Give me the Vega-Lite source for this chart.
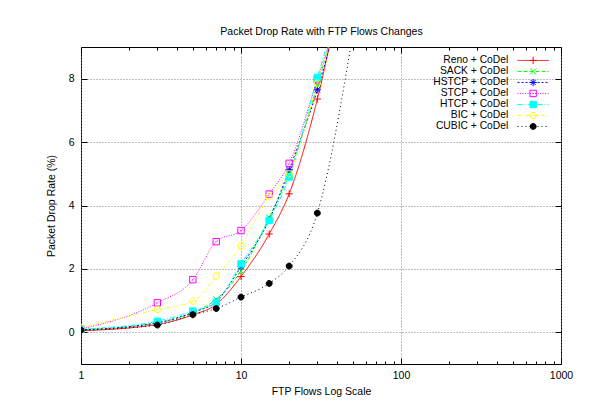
{
  "$schema": "https://vega.github.io/schema/vega-lite/v6.json",
  "width": 480,
  "height": 317,
  "autosize": {"type": "none"},
  "padding": {"left": 81, "top": 47, "right": 34, "bottom": 39},
  "background": "white",
  "config": {
    "font": "Liberation Sans",
    "view": {"stroke": "black", "strokeWidth": 1},
    "axis": {"domain": false, "tickColor": "black", "tickWidth": 1, "labelColor": "black", "labelFontSize": 10.5, "labelFont": "Liberation Sans", "titleFont": "Liberation Sans", "titleFontSize": 10.5, "titleFontWeight": "normal", "titleColor": "black", "gridColor": "#808080", "gridDash": [1, 2], "gridOpacity": 1, "gridWidth": 1},
    "legend": {"labelFont": "Liberation Sans", "labelFontSize": 10.3, "labelColor": "black", "padding": 0, "rowPadding": -2}
  },
  "data": {"values": [
    {"series": "Reno + CoDel", "flows": 1, "rate": 0.05},
    {"series": "Reno + CoDel", "flows": 3, "rate": 0.25},
    {"series": "Reno + CoDel", "flows": 5, "rate": 0.55},
    {"series": "Reno + CoDel", "flows": 7, "rate": 0.88},
    {"series": "Reno + CoDel", "flows": 10, "rate": 1.76},
    {"series": "Reno + CoDel", "flows": 15, "rate": 3.1},
    {"series": "Reno + CoDel", "flows": 20, "rate": 4.37},
    {"series": "Reno + CoDel", "flows": 30, "rate": 7.36},
    {"series": "Reno + CoDel", "flows": 50, "rate": 12.8},
    {"series": "SACK + CoDel", "flows": 1, "rate": 0.08},
    {"series": "SACK + CoDel", "flows": 3, "rate": 0.3},
    {"series": "SACK + CoDel", "flows": 5, "rate": 0.62},
    {"series": "SACK + CoDel", "flows": 7, "rate": 1.04},
    {"series": "SACK + CoDel", "flows": 10, "rate": 1.93},
    {"series": "SACK + CoDel", "flows": 15, "rate": 3.62},
    {"series": "SACK + CoDel", "flows": 20, "rate": 5.0},
    {"series": "SACK + CoDel", "flows": 30, "rate": 7.8},
    {"series": "SACK + CoDel", "flows": 50, "rate": 11.8},
    {"series": "HSTCP + CoDel", "flows": 1, "rate": 0.08},
    {"series": "HSTCP + CoDel", "flows": 3, "rate": 0.3},
    {"series": "HSTCP + CoDel", "flows": 5, "rate": 0.63},
    {"series": "HSTCP + CoDel", "flows": 7, "rate": 0.97},
    {"series": "HSTCP + CoDel", "flows": 10, "rate": 2.07},
    {"series": "HSTCP + CoDel", "flows": 15, "rate": 3.55},
    {"series": "HSTCP + CoDel", "flows": 20, "rate": 5.13},
    {"series": "HSTCP + CoDel", "flows": 30, "rate": 7.65},
    {"series": "HSTCP + CoDel", "flows": 50, "rate": 11.9},
    {"series": "STCP + CoDel", "flows": 1, "rate": 0.1},
    {"series": "STCP + CoDel", "flows": 3, "rate": 0.93},
    {"series": "STCP + CoDel", "flows": 5, "rate": 1.66},
    {"series": "STCP + CoDel", "flows": 7, "rate": 2.86},
    {"series": "STCP + CoDel", "flows": 10, "rate": 3.21},
    {"series": "STCP + CoDel", "flows": 15, "rate": 4.36},
    {"series": "STCP + CoDel", "flows": 20, "rate": 5.33},
    {"series": "STCP + CoDel", "flows": 30, "rate": 7.97},
    {"series": "STCP + CoDel", "flows": 50, "rate": 11.5},
    {"series": "HTCP + CoDel", "flows": 1, "rate": 0.1},
    {"series": "HTCP + CoDel", "flows": 3, "rate": 0.35},
    {"series": "HTCP + CoDel", "flows": 5, "rate": 0.67},
    {"series": "HTCP + CoDel", "flows": 7, "rate": 0.95},
    {"series": "HTCP + CoDel", "flows": 10, "rate": 2.16},
    {"series": "HTCP + CoDel", "flows": 15, "rate": 3.53},
    {"series": "HTCP + CoDel", "flows": 20, "rate": 4.9},
    {"series": "HTCP + CoDel", "flows": 30, "rate": 8.04},
    {"series": "HTCP + CoDel", "flows": 50, "rate": 11.7},
    {"series": "BIC + CoDel", "flows": 1, "rate": 0.15},
    {"series": "BIC + CoDel", "flows": 3, "rate": 0.72},
    {"series": "BIC + CoDel", "flows": 5, "rate": 0.98},
    {"series": "BIC + CoDel", "flows": 7, "rate": 1.77},
    {"series": "BIC + CoDel", "flows": 10, "rate": 2.73},
    {"series": "BIC + CoDel", "flows": 15, "rate": 4.29},
    {"series": "BIC + CoDel", "flows": 20, "rate": 5.0},
    {"series": "BIC + CoDel", "flows": 30, "rate": 7.86},
    {"series": "BIC + CoDel", "flows": 50, "rate": 11.6},
    {"series": "CUBIC + CoDel", "flows": 1, "rate": 0.07},
    {"series": "CUBIC + CoDel", "flows": 3, "rate": 0.23},
    {"series": "CUBIC + CoDel", "flows": 5, "rate": 0.56},
    {"series": "CUBIC + CoDel", "flows": 7, "rate": 0.75},
    {"series": "CUBIC + CoDel", "flows": 10, "rate": 1.11},
    {"series": "CUBIC + CoDel", "flows": 15, "rate": 1.54},
    {"series": "CUBIC + CoDel", "flows": 20, "rate": 2.09},
    {"series": "CUBIC + CoDel", "flows": 30, "rate": 3.76},
    {"series": "CUBIC + CoDel", "flows": 50, "rate": 9.4}
  ]},
  "layer": [
    {
      "mark": {"type": "line", "clip": true, "interpolate": "monotone", "strokeWidth": 1},
      "encoding": {
        "x": {"field": "flows", "type": "quantitative", "scale": {"type": "log", "domain": [1, 1000]},
          "axis": {"orient": "bottom", "values": [1, 10, 100, 1000], "format": "d", "title": "FTP Flows Log Scale", "grid": true, "tickSize": -6, "labelPadding": 12, "labelFlush": false, "titlePadding": 6}},
        "y": {"field": "rate", "type": "quantitative", "scale": {"domain": [-1, 9], "nice": false, "zero": false},
          "axis": {"orient": "left", "values": [0, 2, 4, 6, 8], "title": "Packet Drop Rate (%)", "grid": true, "tickSize": -6, "labelPadding": 13, "titlePadding": 12}},
        "color": {"field": "series", "type": "nominal",
          "scale": {"domain": ["Reno + CoDel", "SACK + CoDel", "HSTCP + CoDel", "STCP + CoDel", "HTCP + CoDel", "BIC + CoDel", "CUBIC + CoDel"],
                    "range": ["#ff0000", "#00ff00", "#0000ff", "#ff00ff", "#00ffff", "#ffff00", "#000000"]},
          "legend": {"orient": "none", "legendX": 447, "legendY": 8.3, "title": null, "symbolType": "M-3.9,0L3.9,0", "symbolSize": 64, "symbolStrokeWidth": 1, "labelAlign": "right", "labelOffset": -30, "labelOpacity": 0, "zindex": 0}},
        "strokeDash": {"field": "series", "type": "nominal",
          "scale": {"domain": ["Reno + CoDel", "SACK + CoDel", "HSTCP + CoDel", "STCP + CoDel", "HTCP + CoDel", "BIC + CoDel", "CUBIC + CoDel"],
                    "range": [[1, 0], [4, 2], [2, 2], [1, 1.5], [5, 2, 1, 2], [3, 2, 1, 2], [1, 3]]},
          "legend": {"orient": "none", "legendX": 447, "legendY": 8.3, "title": null, "symbolType": "M-3.9,0L3.9,0", "symbolSize": 64, "symbolStrokeWidth": 1, "labelAlign": "right", "labelOffset": -30, "labelOpacity": 0, "zindex": 0}}
      }
    },
    {
      "mark": {"type": "point", "clip": true, "size": 64, "strokeWidth": 1, "opacity": 1},
      "encoding": {
        "x": {"field": "flows", "type": "quantitative",
          "axis": {"orient": "bottom", "values": [2, 3, 4, 5, 6, 7, 8, 9, 20, 30, 40, 50, 60, 70, 80, 90, 200, 300, 400, 500, 600, 700, 800, 900], "labels": false, "title": null, "grid": false, "tickSize": -3}},
        "y": {"field": "rate", "type": "quantitative",
          "axis": {"orient": "right", "values": [0, 2, 4, 6, 8], "labels": false, "title": null, "grid": false, "tickSize": -6}},
        "stroke": {"field": "series", "type": "nominal",
          "scale": {"domain": ["Reno + CoDel", "SACK + CoDel", "HSTCP + CoDel", "STCP + CoDel", "HTCP + CoDel", "BIC + CoDel", "CUBIC + CoDel", "_"],
                    "range": ["#ff0000", "#00ff00", "#0000ff", "#ff00ff", "#00ffff", "#ffff00", "#000000", "#000000"]},
          "legend": {"orient": "none", "legendX": 447, "legendY": 8.3, "title": null, "symbolSize": 64, "symbolStrokeWidth": 1, "labelAlign": "right", "labelOffset": -30, "zindex": 1,
                     "values": ["Reno + CoDel", "SACK + CoDel", "HSTCP + CoDel", "STCP + CoDel", "HTCP + CoDel", "BIC + CoDel", "CUBIC + CoDel"]}},
        "fill": {"field": "series", "type": "nominal",
          "scale": {"domain": ["Reno + CoDel", "SACK + CoDel", "HSTCP + CoDel", "STCP + CoDel", "HTCP + CoDel", "BIC + CoDel", "CUBIC + CoDel", "_"],
                    "range": ["transparent", "transparent", "#0000ff", "transparent", "#00ffff", "transparent", "#000000", "transparent"]},
          "legend": {"orient": "none", "legendX": 447, "legendY": 8.3, "title": null, "symbolSize": 64, "symbolStrokeWidth": 1, "labelAlign": "right", "labelOffset": -30, "zindex": 1,
                     "values": ["Reno + CoDel", "SACK + CoDel", "HSTCP + CoDel", "STCP + CoDel", "HTCP + CoDel", "BIC + CoDel", "CUBIC + CoDel"]}},
        "shape": {"field": "series", "type": "nominal",
          "scale": {"domain": ["Reno + CoDel", "SACK + CoDel", "HSTCP + CoDel", "STCP + CoDel", "HTCP + CoDel", "BIC + CoDel", "CUBIC + CoDel", "_"],
                    "range": ["M-0.9,0L0.9,0M0,-0.9L0,0.9",
                              "M-0.75,-0.75L0.75,0.75M-0.75,0.75L0.75,-0.75",
                              "M-0.9,0L0.9,0M0,-0.9L0,0.9M-0.65,-0.65L0.65,0.65M-0.65,0.65L0.65,-0.65",
                              "M-0.8,-0.8L0.8,-0.8L0.8,0.8L-0.8,0.8ZM-0.12,0L0.12,0",
                              "M-0.8,-0.8L0.8,-0.8L0.8,0.8L-0.8,0.8Z",
                              "M0.8,0L0.693,0.4L0.4,0.693L0,0.8L-0.4,0.693L-0.693,0.4L-0.8,0L-0.693,-0.4L-0.4,-0.693L0,-0.8L0.4,-0.693L0.693,-0.4ZM-0.12,0L0.12,0",
                              "M0.75,0L0.65,0.375L0.375,0.65L0,0.75L-0.375,0.65L-0.65,0.375L-0.75,0L-0.65,-0.375L-0.375,-0.65L0,-0.75L0.375,-0.65L0.65,-0.375Z",
                              "circle"]},
          "legend": {"orient": "none", "legendX": 447, "legendY": 8.3, "title": null, "symbolSize": 64, "symbolStrokeWidth": 1, "labelAlign": "right", "labelOffset": -30, "zindex": 1,
                     "values": ["Reno + CoDel", "SACK + CoDel", "HSTCP + CoDel", "STCP + CoDel", "HTCP + CoDel", "BIC + CoDel", "CUBIC + CoDel"]}}
      }
    },
    {
      "mark": {"type": "point", "opacity": 0},
      "encoding": {
        "x": {"field": "flows", "type": "quantitative",
          "axis": {"orient": "top", "values": [1, 10, 100, 1000], "labels": false, "title": "Packet Drop Rate with FTP Flows Changes", "titlePadding": 10, "grid": false, "tickSize": -6}},
        "y": {"field": "rate", "type": "quantitative", "axis": null}
      }
    },
    {
      "mark": {"type": "point", "opacity": 0},
      "encoding": {
        "x": {"field": "flows", "type": "quantitative",
          "axis": {"orient": "top", "values": [2, 3, 4, 5, 6, 7, 8, 9, 20, 30, 40, 50, 60, 70, 80, 90, 200, 300, 400, 500, 600, 700, 800, 900], "labels": false, "title": null, "grid": false, "tickSize": -3}},
        "y": {"field": "rate", "type": "quantitative", "axis": null}
      }
    }
  ],
  "resolve": {"axis": {"x": "independent", "y": "independent"}}
}
